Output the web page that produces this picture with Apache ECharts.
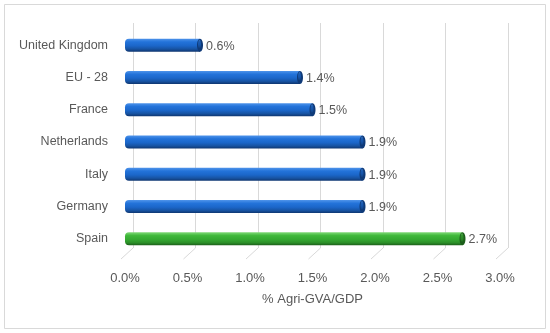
<!DOCTYPE html>
<html>
<head>
<meta charset="utf-8">
<script src="https://cdn.jsdelivr.net/npm/echarts@6/dist/echarts.min.js"></script>
<style>html,body{margin:0;padding:0;background:#fff;}#c{width:550px;height:333px;}</style>
</head>
<body>
<div id="c"></div>
<script>
var categories = ['United Kingdom', 'EU - 28', 'France', 'Netherlands', 'Italy', 'Germany', 'Spain'];
var values = [0.6, 1.4, 1.5, 1.9, 1.9, 1.9, 2.7];
var barKinds = ['blue', 'blue', 'blue', 'blue', 'blue', 'blue', 'green'];
var ticks = [0, 0.5, 1.0, 1.5, 2.0, 2.5, 3.0];
var axisTitle = '% Agri-GVA/GDP';

var FONT = 'Liberation Sans, Arial, sans-serif';
var TXT = '#595959';
var palettes = {
  blue: {stops: ['#4f94ea', '#2373da', '#1b66c9', '#1753a2', '#0f3670'], cap: '#0f3a78'},
  green: {stops: ['#7fd876', '#3fb83a', '#35a831', '#2b8f28', '#1b5c19'], cap: '#1c5e1a'}
};
function grad(p) {
  var s = p.stops;
  return new echarts.graphic.LinearGradient(0, 0, 0, 1, [
    {offset: 0, color: s[0]}, {offset: 0.25, color: s[1]}, {offset: 0.55, color: s[2]},
    {offset: 0.8, color: s[3]}, {offset: 1, color: s[4]}
  ]);
}

var chart = echarts.init(document.getElementById('c'));
chart.setOption({
  animation: false,
  backgroundColor: '#fff',
  graphic: [{type: 'rect', shape: {x: 4.5, y: 4.5, width: 541, height: 324}, style: {fill: 'none', stroke: '#d9d9d9', lineWidth: 1}, z: 0}],
  grid: [
    {left: 125, right: 50, top: 29, bottom: 78},
    {left: 133, right: 42, top: 23, bottom: 85}
  ],
  xAxis: [
    {gridIndex: 0, type: 'value', min: 0, max: 3, interval: 0.5,
     axisLine: {show: false}, axisTick: {show: false}, splitLine: {show: false},
     axisLabel: {formatter: function (v) { return v.toFixed(1) + '%'; }, color: TXT, fontFamily: FONT, fontSize: 13, margin: 17},
     name: axisTitle, nameLocation: 'middle', nameGap: 38,
     nameTextStyle: {color: TXT, fontFamily: FONT, fontSize: 13}},
    {gridIndex: 1, type: 'value', min: 0, max: 3, interval: 0.5,
     axisLine: {show: false}, axisTick: {show: false}, axisLabel: {show: false},
     splitLine: {show: true, lineStyle: {color: '#d9d9d9', width: 1}}}
  ],
  yAxis: [
    {gridIndex: 0, type: 'category', data: categories, inverse: true,
     axisLine: {show: false}, axisTick: {show: false},
     axisLabel: {color: TXT, fontFamily: FONT, fontSize: 12.5, margin: 17}},
    {gridIndex: 1, type: 'value', min: 0, max: 1, show: false}
  ],
  series: [
    {type: 'custom', xAxisIndex: 1, yAxisIndex: 1, z: 1,
     data: ticks.map(function (t) { return [t, 0]; }),
     renderItem: function (params, api) {
       var p = api.coord([api.value(0), 0]);
       return {type: 'line', shape: {x1: p[0], y1: p[1], x2: p[0] - 12, y2: p[1] + 11},
               style: {stroke: '#d9d9d9', lineWidth: 1}};
     }},
    {type: 'custom', xAxisIndex: 0, yAxisIndex: 0, z: 5,
     data: categories.map(function (c, i) { return [i, values[i], barKinds[i]]; }),
     encode: {x: 1, y: 0},
     renderItem: function (params, api) {
       var i = params.dataIndex;
       var val = values[i];
       var pal = palettes[barKinds[i]];
       var s = api.coord([0, i]);
       var e = api.coord([val, i]);
       var h = 13;
       var y0 = s[1] - h / 2;
       return {type: 'group', children: [
         {type: 'rect', shape: {x: s[0], y: y0, width: e[0] - s[0], height: h, r: [4, 0, 0, 4]},
          style: {fill: grad(pal)}},
         {type: 'ellipse', shape: {cx: e[0], cy: s[1], rx: 3, ry: h / 2},
          style: {fill: pal.cap}},
         {type: 'ellipse', shape: {cx: e[0] - 0.5, cy: s[1] - 1, rx: 1.5, ry: h / 2 - 2},
          style: {fill: grad(pal), opacity: 0.6}},
         {type: 'text', style: {text: val.toFixed(1) + '%', x: e[0] + 6, y: s[1] + 1,
          verticalAlign: 'middle', align: 'left', fill: TXT, fontFamily: FONT, fontSize: 12.5}}
       ]};
     }}
  ]
});
</script>
</body>
</html>
